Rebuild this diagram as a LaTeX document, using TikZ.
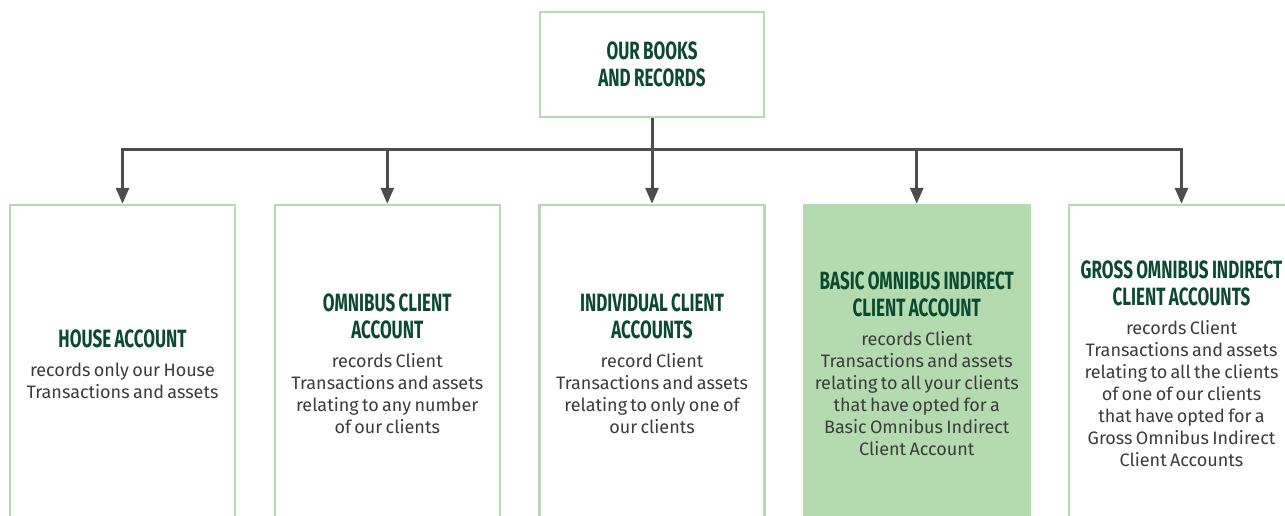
\documentclass[tikz,border=0pt]{standalone}
\usepackage{fontspec}
\usepackage{tikz}
\usetikzlibrary{arrows.meta}
\newfontfamily\headfont[FakeStretch=0.68]{Fira Sans}
\newfontfamily\bodyfont{Fira Sans}
\definecolor{edge}{RGB}{179, 219, 175}
\definecolor{head}{RGB}{11, 74, 48}
\definecolor{ink}{RGB}{60, 60, 60}
\definecolor{wire}{RGB}{77, 77, 77}
\newcommand{\headtext}[1]{%
  {\color{head}\headfont\bfseries\fontsize{25}{27}\selectfont #1\par}}
\newcommand{\accttext}[2]{%
  \headtext{#1}%
  \vskip 7pt
  {\color{ink}\bodyfont\fontsize{18}{22}\selectfont #2\par}}

\begin{document}
\begin{tikzpicture}[
   x=1pt, y=-1pt,
   bookbox/.style={rectangle, draw=edge, fill=white, line width=2.5, inner sep=0,
                   minimum width=224, minimum height=105, text width=205, align=center},
   acctbox/.style={rectangle, draw=edge, fill=white, line width=2.5, inner sep=0,
                   minimum width=225, minimum height=318, text width=212, align=center},
   basicbox/.style={acctbox, fill=edge}
  ]

  \clip (0, 0) rectangle (1285, 515);

  % Box Spacing
  \pgfmathsetmacro{\d}{264.75}

  \begin{scope}[shift={(652, 0)}]
    \node (books) at (0, 64.5) [bookbox] {\headtext{OUR BOOKS\\AND RECORDS}};

    \coordinate (bus) at (0, 149);

    \node (house) at (-2 * \d, 364) [acctbox]
      {\accttext{HOUSE ACCOUNT}{records only our House\\Transactions and assets}};

    \node (omnibus) at (-1 * \d, 364) [acctbox]
      {\accttext{OMNIBUS CLIENT\\ACCOUNT}{records Client\\Transactions and assets\\relating to any number\\of our clients}};

    \node (individual) at (0 * \d, 364) [acctbox]
      {\accttext{INDIVIDUAL CLIENT\\ACCOUNTS}{record Client\\Transactions and assets\\relating to only one of\\our clients}};

    \node (basic) at (1 * \d, 364) [basicbox]
      {\accttext{BASIC OMNIBUS INDIRECT\\CLIENT ACCOUNT}{records Client\\Transactions and assets\\relating to all your clients\\that have opted for a\\Basic Omnibus Indirect\\Client Account}};

    \node (gross) at (2 * \d, 364) [acctbox]
      {\accttext{GROSS OMNIBUS INDIRECT\\CLIENT ACCOUNTS}{records Client\\Transactions and assets\\relating to all the clients\\of one of our clients\\that have opted for a\\Gross Omnibus Indirect\\Client Accounts}};

    \draw[color=wire, line width=3] (books) -- (bus);

    \foreach \E in {house, omnibus, individual, basic, gross} {
      \draw[-{Triangle[length=16pt, width=13pt]}, color=wire, line width=3] (bus) -| (\E.north);
    }

  \end{scope}

\end{tikzpicture}
\end{document}
